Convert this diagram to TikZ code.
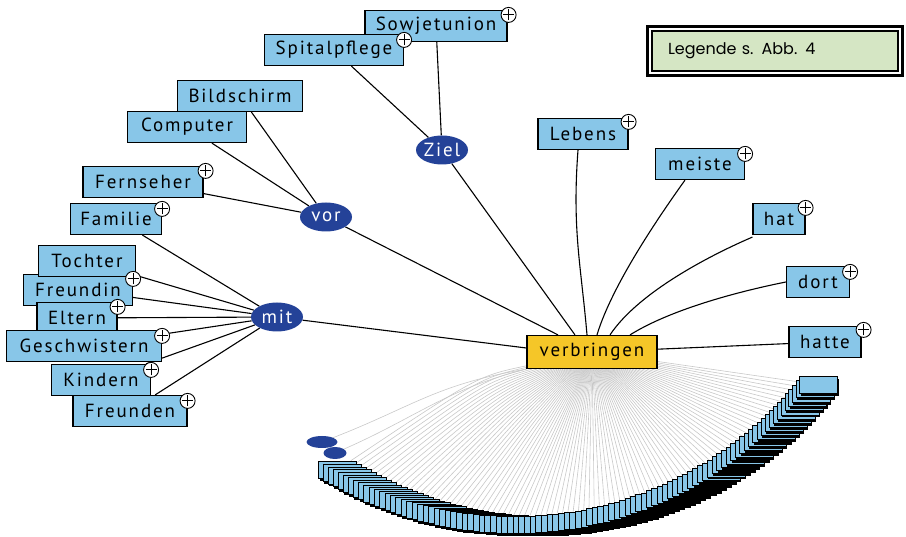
\documentclass[tikz,border=0pt]{standalone}
\usepackage{fontspec}
\usetikzlibrary{shapes.geometric,shadows,backgrounds,calc}
\newfontfamily\nfont[LetterSpace=10]{PT Sans}
\newfontfamily\lfont{Poppins}
\definecolor{boxblue}{RGB}{136,198,232}
\definecolor{hubblue}{RGB}{36,66,152}
\definecolor{verbyellow}{RGB}{245,198,40}
\definecolor{leggreen}{RGB}{213,230,196}
\definecolor{fangrey}{RGB}{200,200,200}
\tikzset{
  word/.style={draw=black, line width=1.2pt, fill=boxblue, minimum height=31pt, inner xsep=5pt, inner ysep=0pt,
    font=\nfont\fontsize{19}{21}\selectfont, text=black},
  hub/.style={ellipse, fill=hubblue, minimum width=52pt, minimum height=29pt, inner sep=0pt,
    font=\nfont\fontsize{19}{21}\selectfont, text=white},
  root/.style={draw=black, line width=1.2pt, fill=verbyellow, minimum height=33pt, minimum width=130pt, inner sep=0pt,
    font=\nfont\fontsize{19}{21}\selectfont, text=black},
  link/.style={draw=black, line width=1.1pt},
  fanline/.style={draw=fangrey, line width=0.6pt},
  plusc/.style={circle, draw=black, line width=0.9pt, fill=white, minimum size=15pt, inner sep=0pt,
    path picture={\draw[line width=0.9pt] ([xshift=-5.5pt]path picture bounding box.center) -- ([xshift=5.5pt]path picture bounding box.center);
                  \draw[line width=0.9pt] ([yshift=-5.5pt]path picture bounding box.center) -- ([yshift=5.5pt]path picture bounding box.center);}},
  fanbox/.style={draw=black, line width=0.7pt, fill=boxblue, minimum width=38pt, minimum height=17pt, inner sep=0pt,
    general shadow={fill=black, shadow xshift=1pt, shadow yshift=-2.5pt}},
  minihub/.style={ellipse, fill=hubblue, inner sep=0pt},
  legend/.style={draw=black, line width=1.3pt, fill=leggreen, minimum width=246pt, minimum height=40pt,
    text width=214pt, align=left, inner xsep=16pt, font=\lfont\fontsize{16}{18}\selectfont}
}
\begin{document}
\begin{tikzpicture}[x=1pt,y=-1pt]
\useasboundingbox (0,0) rectangle (906,537);

% ---------- fan of small boxes ----------
\node[minihub, minimum width=31pt, minimum height=12pt] (m1) at (322,442) {};
\node[minihub, minimum width=23pt, minimum height=12pt] (m2) at (335,453) {};
\foreach \i in {0,...,94} {
  \pgfmathsetmacro\th{122-84*\i/94}
  \node[fanbox] (f\i) at ({531+365*cos(\th)},{160+365*sin(\th)}) {};
}

% ---------- main nodes ----------
\node[root] (verb) at (592,352) {verbringen};

\node[hub] (ziel) at (442,150) {Ziel};
\node[hub] (vor) at (326,217) {vor};
\node[hub] (mit) at (277,317) {mit};

\node[word, minimum width=142pt] (sow) at (436,26) {Sowjetunion};
\node[word, minimum width=139pt] (spi) at (334,50) {Spitalpflege};
\node[word, minimum width=125pt] (bil) at (240,96) {Bildschirm};
\node[word, minimum width=119pt] (com) at (187,127) {Computer};
\node[word, minimum width=120pt] (fer) at (143,182) {Fernseher};
\node[word, minimum width=91pt] (fam) at (116,219) {Familie};
\node[word, minimum width=109pt] (fre) at (78,290) {Freundin};
\node[word, minimum width=97pt] (toc) at (87,261) {Tochter};
\node[word, minimum width=80pt] (elt) at (77,318) {Eltern};
\node[word, minimum width=155pt] (ges) at (84,346) {Geschwistern};
\node[word, minimum width=99pt] (kin) at (101,380) {Kindern};
\node[word, minimum width=114pt] (frd) at (130,411) {Freunden};

\node[word, minimum width=90pt] (leb) at (583,134) {Lebens};
\node[word, minimum width=89pt] (mei) at (700,164) {meiste};
\node[word, minimum width=52pt] (hat) at (779,219) {hat};
\node[word, minimum width=63pt] (dor) at (818,282) {dort};
\node[word, minimum width=72pt] (hae) at (825,342) {hatte};

% plus markers
\node[plusc] (psow) at ([shift={(1,5)}]sow.north east) {};
\node[plusc] (pspi) at ([shift={(0,6)}]spi.north east) {};
\node[plusc] (pfer) at ([shift={(2,5)}]fer.north east) {};
\node[plusc] (pfam) at ([shift={(0,6)}]fam.north east) {};
\node[plusc] (pfre) at ([shift={(0,5)}]fre.north east) {};
\node[plusc] (pelt) at ([shift={(0,5)}]elt.north east) {};
\node[plusc] (pges) at ([shift={(0,6)}]ges.north east) {};
\node[plusc] (pkin) at ([shift={(0,6)}]kin.north east) {};
\node[plusc] (pfrd) at ([shift={(0,6)}]frd.north east) {};
\node[plusc] (pleb) at ([shift={(0,4)}]leb.north east) {};
\node[plusc] (pmei) at ([shift={(0,6)}]mei.north east) {};
\node[plusc] (phat) at ([shift={(0,5)}]hat.north east) {};
\node[plusc] (pdor) at ([shift={(0,6)}]dor.north east) {};
\node[plusc] (phae) at ([shift={(2,4)}]hae.north east) {};

% legend
\node[legend] (leg) at (775,51) {Legende s. Abb. 4};
\draw[line width=2.6pt] ([shift={(-4,-4)}]leg.north west) rectangle ([shift={(4,4)}]leg.south east);

% ---------- connectors (behind) ----------
\begin{scope}[on background layer]
  \draw[fanline] (verb.south west) .. controls +(-90,15) and +(90,-35) .. (m1);
  \draw[fanline] (verb.south west) .. controls +(-80,20) and +(80,-35) .. (m2);
  \foreach \i in {0,...,94} {
    \pgfmathsetmacro\bx{max(0,(32-\i))*0.9}
    \draw[fanline] (verb) .. controls ($(verb)!0.45!(f\i)+(0,-\bx)$) .. (f\i);
  }
  \draw[link] (ziel) -- (sow);
  \draw[link] (ziel) -- (spi);
  \draw[link] (vor) -- (bil);
  \draw[link] (vor) -- (com);
  \draw[link] (vor) -- (fer);
  \draw[link] (mit) -- (fam);
  \draw[link] (mit) -- (toc);
  \draw[link] (mit) -- (fre);
  \draw[link] (mit) -- (elt);
  \draw[link] (mit) -- (ges);
  \draw[link] (mit) -- (kin);
  \draw[link] (mit) -- (frd);
  \draw[link] (mit) -- ([yshift=4pt]verb.west);
  \draw[link] (vor) -- ([xshift=-34pt]verb.north);
  \draw[link] (ziel) -- ([xshift=-17pt]verb.north);
  \draw[link] ([xshift=-5pt]leb.south) .. controls +(-6,80) and +(-6,-70) .. ([xshift=-5pt]verb.north);
  \draw[link] ([xshift=-15pt]mei.south) .. controls +(-25,35) and +(15,-50) .. ([xshift=5pt]verb.north);
  \draw[link] ([yshift=-2pt]hat.south west) .. controls +(-35,15) and +(30,-45) .. ([xshift=18pt]verb.north);
  \draw[link] (dor.west) .. controls +(-50,10) and +(40,-25) .. ([xshift=38pt]verb.north);
  \draw[link] (hae) -- (verb);
\end{scope}
\end{tikzpicture}
\end{document}
